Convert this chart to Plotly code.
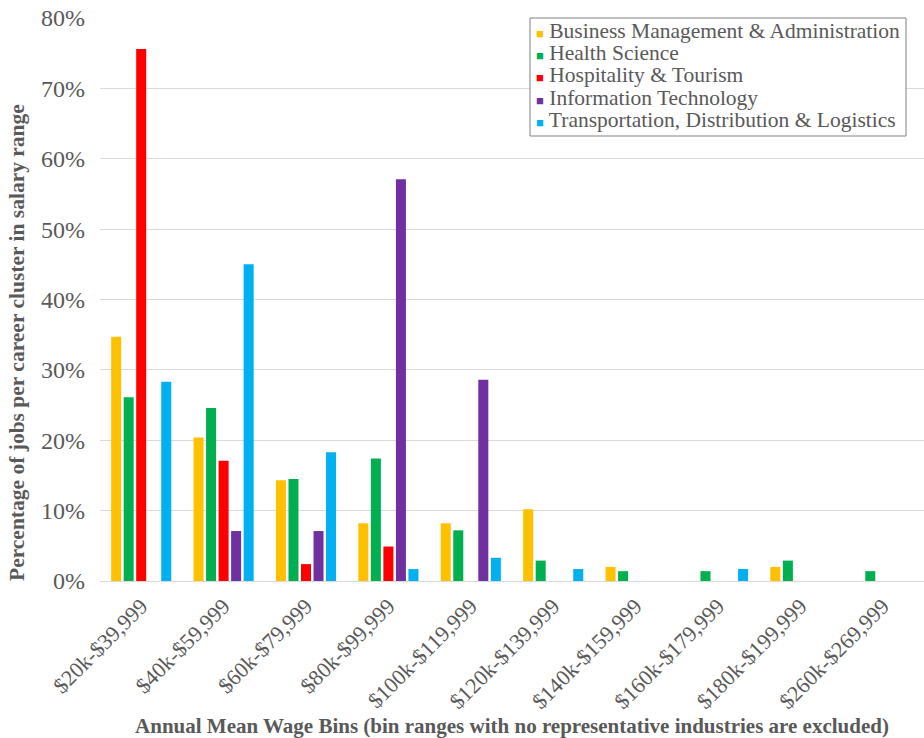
import plotly.graph_objects as go

bins = ["$20k-$39,999", "$40k-$59,999", "$60k-$79,999", "$80k-$99,999",
        "$100k-$119,999", "$120k-$139,999", "$140k-$159,999", "$160k-$179,999",
        "$180k-$199,999", "$260k-$269,999"]

business = [0.347, 0.204, 0.143, 0.082, 0.082, 0.102, 0.020, 0.0, 0.020, 0.0]
health = [0.261, 0.246, 0.145, 0.174, 0.072, 0.029, 0.014, 0.014, 0.029, 0.014]
hospitality = [0.756, 0.171, 0.024, 0.049, 0.0, 0.0, 0.0, 0.0, 0.0, 0.0]
info_tech = [0.0, 0.071, 0.071, 0.571, 0.286, 0.0, 0.0, 0.0, 0.0, 0.0]
transport = [0.283, 0.450, 0.183, 0.017, 0.033, 0.017, 0.0, 0.017, 0.0, 0.0]

series = [
    ("Business Management & Administration", business, "#FFC000"),
    ("Health Science", health, "#00B050"),
    ("Hospitality & Tourism", hospitality, "#FF0000"),
    ("Information Technology", info_tech, "#7030A0"),
    ("Transportation, Distribution & Logistics", transport, "#00B0F0"),
]

FF = "Times New Roman, Liberation Serif, DejaVu Serif, serif"
grey = "#595959"

fig = go.Figure()
for name, vals, color in series:
    fig.add_trace(go.Bar(x=bins, y=vals, name=name, marker_color=color,
                         marker_line_width=0, showlegend=False))

PLOT_L, PLOT_W, PLOT_T, PLOT_H = 100, 824, 18, 563
def px_x(px):
    return (px - PLOT_L) / PLOT_W
def px_y(py):
    return (PLOT_T + PLOT_H - py) / PLOT_H

# Custom legend (compact rows like the reference)
fig.add_shape(type="rect", xref="paper", yref="paper",
              x0=px_x(530), x1=px_x(906), y0=px_y(136), y1=px_y(18),
              line=dict(color="#808080", width=1), fillcolor="white", layer="above")
row_y = [31, 53, 75, 98, 120]
for (name, vals, color), ry in zip(series, row_y):
    fig.add_annotation(xref="paper", yref="paper", x=px_x(534), y=px_y(ry),
                       xanchor="left", yanchor="middle", showarrow=False,
                       text=f'<span style="color:{color};font-size:13px">■</span> {name}',
                       font=dict(family=FF, size=21.5, color=grey))

# Y axis title
fig.add_annotation(xref="paper", yref="paper", x=px_x(17), y=px_y(343),
                   xanchor="center", yanchor="middle", showarrow=False,
                   textangle=-90,
                   text="<b>Percentage of jobs per career cluster in salary range</b>",
                   font=dict(family=FF, size=21.5, color=grey))

fig.update_layout(
    width=924, height=738,
    margin=dict(l=PLOT_L, r=0, t=PLOT_T, b=738 - PLOT_T - PLOT_H),
    plot_bgcolor="white", paper_bgcolor="white",
    barmode="group", bargap=0.24, bargroupgap=0.2,
    font=dict(family=FF, color=grey),
    xaxis=dict(tickangle=-45, tickfont=dict(family=FF, size=22, color=grey),
               showgrid=False, showline=False, ticklabelstandoff=7,
               title=dict(text="<b>Annual Mean Wage Bins (bin ranges with no representative industries are excluded)</b>",
                          font=dict(family=FF, size=21, color=grey), standoff=4)),
    yaxis=dict(range=[0, 0.8], dtick=0.1, tickformat=".0%",
               tickfont=dict(family=FF, size=24, color=grey),
               gridcolor="#D9D9D9", gridwidth=1, zeroline=True,
               zerolinecolor="#D9D9D9", zerolinewidth=1,
               ticklabelstandoff=14),
)

fig.write_html("out.html")
